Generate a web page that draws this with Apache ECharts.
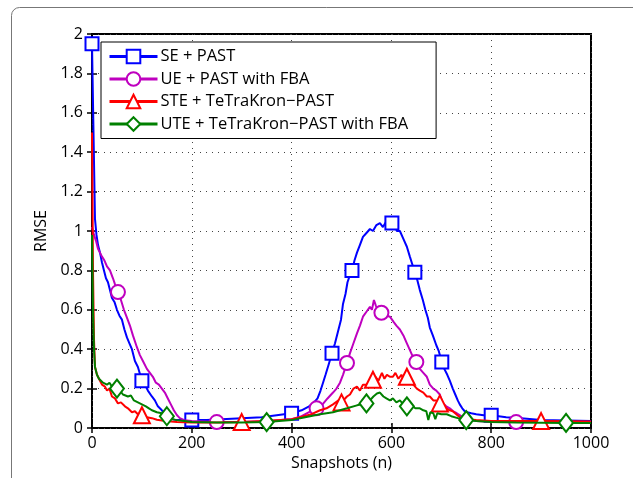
<!DOCTYPE html>
<html>
<head>
<meta charset="utf-8">
<script src="https://cdn.jsdelivr.net/npm/echarts@6/dist/echarts.min.js"></script>
<style>html,body{margin:0;padding:0;background:#fff}#c{width:633px;height:478px}</style>
</head>
<body>
<div id="c"></div>
<script>
const seriesNames = ['SE + PAST', 'UE + PAST with FBA', 'STE + TeTraKron\u2212PAST', 'UTE + TeTraKron\u2212PAST with FBA'];
const xTicks = [0, 200, 400, 600, 800, 1000];
const yTicks = [0, 0.2, 0.4, 0.6, 0.8, 1, 1.2, 1.4, 1.6, 1.8, 2];

const sePast = [[0,1.95],[3,1.5],[6,1.06],[9,0.98],[12,0.93],[16,0.89],[20,0.84],[24,0.8],[28,0.76],[32,0.74],[36,0.7],[40,0.66],[45,0.64],[50,0.6],[55,0.57],[60,0.55],[65,0.5],[70,0.46],[75,0.43],[80,0.4],[86,0.34],[92,0.31],[100,0.24],[106,0.22],[112,0.19],[120,0.16],[126,0.14],[132,0.11],[140,0.09],[146,0.07],[152,0.055],[160,0.045],[170,0.04],[180,0.04],[200,0.04],[230,0.04],[260,0.045],[300,0.05],[340,0.055],[370,0.065],[400,0.075],[420,0.09],[435,0.11],[445,0.13],[452,0.15],[458,0.19],[463,0.23],[468,0.27],[474,0.32],[481,0.38],[487,0.43],[494,0.5],[499,0.55],[503,0.63],[508,0.68],[512,0.74],[516,0.77],[521,0.8],[526,0.85],[531,0.89],[537,0.93],[543,0.97],[550,0.99],[557,1.01],[563,1.0],[570,1.03],[577,1.04],[583,1.02],[590,1.05],[596,1.03],[601,1.04],[606,1.03],[611,1.0],[617,1.0],[624,0.96],[631,0.92],[637,0.87],[642,0.83],[647,0.79],[652,0.75],[657,0.7],[663,0.65],[668,0.6],[673,0.56],[677,0.51],[683,0.47],[690,0.42],[695,0.39],[701,0.335],[706,0.3],[712,0.27],[717,0.24],[723,0.2],[728,0.17],[733,0.14],[737,0.12],[742,0.1],[747,0.085],[752,0.08],[760,0.075],[770,0.07],[785,0.065],[800,0.065],[830,0.055],[860,0.05],[900,0.04],[950,0.038],[1000,0.035]];
const seMarks = [0, 100, 200, 400, 481, 521, 601, 647, 701, 800];

const uePast = [[0,1.02],[4,0.98],[8,0.95],[12,0.91],[16,0.89],[20,0.87],[25,0.85],[30,0.82],[36,0.8],[42,0.76],[46,0.73],[52,0.69],[58,0.65],[64,0.6],[70,0.56],[76,0.52],[82,0.47],[90,0.41],[96,0.37],[102,0.34],[110,0.3],[116,0.28],[122,0.26],[128,0.23],[134,0.22],[140,0.2],[146,0.18],[152,0.15],[158,0.12],[164,0.09],[170,0.066],[176,0.05],[185,0.04],[200,0.035],[250,0.03],[300,0.03],[350,0.035],[400,0.045],[420,0.06],[435,0.08],[450,0.1],[462,0.12],[472,0.15],[483,0.18],[490,0.2],[497,0.23],[503,0.27],[511,0.33],[517,0.38],[524,0.43],[531,0.48],[537,0.52],[543,0.565],[550,0.59],[557,0.615],[561,0.6],[565,0.65],[569,0.62],[573,0.6],[580,0.585],[586,0.6],[591,0.57],[597,0.565],[604,0.54],[610,0.52],[617,0.5],[624,0.47],[631,0.43],[638,0.39],[645,0.35],[650,0.335],[657,0.3],[664,0.28],[671,0.26],[677,0.22],[684,0.2],[690,0.19],[697,0.17],[703,0.125],[710,0.11],[717,0.1],[724,0.085],[731,0.075],[740,0.06],[751,0.045],[770,0.035],[800,0.032],[850,0.03],[900,0.03],[1000,0.03]];
const ueMarks = [52, 250, 450, 511, 580, 650, 850];

const stePast = [[0,1.5],[2,0.8],[4,0.45],[6,0.31],[10,0.27],[16,0.24],[20,0.22],[26,0.21],[30,0.19],[35,0.2],[40,0.16],[46,0.15],[52,0.125],[58,0.13],[66,0.11],[72,0.1],[80,0.08],[86,0.085],[92,0.07],[100,0.065],[110,0.055],[120,0.05],[130,0.042],[147,0.035],[170,0.03],[200,0.028],[250,0.028],[300,0.03],[350,0.035],[400,0.045],[417,0.055],[440,0.07],[457,0.09],[470,0.1],[483,0.12],[494,0.14],[500,0.13],[511,0.16],[517,0.17],[524,0.2],[531,0.21],[537,0.19],[543,0.22],[551,0.22],[557,0.24],[563,0.245],[568,0.26],[574,0.24],[581,0.28],[586,0.25],[591,0.27],[597,0.26],[603,0.26],[608,0.28],[614,0.25],[620,0.27],[626,0.24],[631,0.26],[637,0.23],[644,0.22],[651,0.2],[657,0.19],[664,0.18],[671,0.16],[677,0.16],[684,0.14],[690,0.14],[697,0.125],[703,0.12],[710,0.1],[717,0.09],[723,0.085],[730,0.07],[737,0.055],[750,0.045],[770,0.04],[800,0.035],[850,0.035],[900,0.035],[1000,0.033]];
const steMarks = [100, 300, 500, 563, 631, 697, 900];

const utePast = [[0,0.98],[2,0.6],[4,0.4],[6,0.31],[10,0.27],[14,0.25],[18,0.26],[22,0.23],[26,0.24],[30,0.22],[35,0.23],[40,0.21],[46,0.22],[50,0.2],[56,0.19],[62,0.17],[66,0.18],[72,0.16],[78,0.165],[84,0.14],[92,0.13],[100,0.12],[108,0.11],[114,0.1],[120,0.09],[130,0.08],[140,0.075],[150,0.06],[160,0.045],[170,0.04],[185,0.035],[200,0.03],[250,0.028],[300,0.028],[350,0.03],[400,0.04],[417,0.05],[457,0.07],[483,0.08],[511,0.1],[531,0.115],[550,0.125],[557,0.14],[564,0.16],[571,0.175],[577,0.18],[584,0.16],[590,0.15],[597,0.14],[603,0.15],[610,0.13],[617,0.14],[624,0.12],[631,0.11],[640,0.115],[648,0.1],[657,0.1],[664,0.09],[670,0.085],[674,0.04],[678,0.08],[684,0.075],[688,0.045],[692,0.075],[700,0.07],[711,0.07],[720,0.06],[733,0.05],[750,0.04],[770,0.035],[800,0.03],[850,0.028],[900,0.027],[950,0.026],[1000,0.026]];
const uteMarks = [50, 150, 350, 550, 631, 750, 950];

const FONT = 'Open Sans';
const colors = ['#0000ff', '#bf00bf', '#ff0000', '#008000'];
const symbols = ['emptyRect', 'emptyCircle', 'emptyTriangle', 'emptyDiamond'];
const symSizes = [13, 14, 16, [14, 18]];
const allData = [sePast, uePast, stePast, utePast];
const allMarks = [seMarks, ueMarks, steMarks, uteMarks];

function build(d, marks) {
  return d.map(p => marks.indexOf(p[0]) >= 0 ? { value: p } : { value: p, symbol: 'none' });
}

const chart = echarts.init(document.getElementById('c'), null, { renderer: 'canvas' });
const axisTick = { inside: true, length: 5, lineStyle: { color: '#000', width: 1.5 } };
chart.setOption({
  animation: false,
  backgroundColor: '#fff',
  textStyle: { fontFamily: FONT },
  graphic: [{
    type: 'rect', z: -10, silent: true,
    shape: { x: 11.5, y: 7.5, width: 640, height: 500, r: 8 },
    style: { fill: 'none', stroke: '#777', lineWidth: 1 }
  }],
  grid: { left: 92, right: 42, top: 34, bottom: 50, show: true, borderColor: '#000', borderWidth: 2, backgroundColor: 'transparent' },
  legend: {
    orient: 'vertical', left: 101, top: 42,
    itemWidth: 48, itemHeight: 17, itemGap: 5.5,
    padding: [6, 28, 6, 7],
    backgroundColor: '#fff', borderColor: '#000', borderWidth: 1,
    lineStyle: { width: 3 },
    textStyle: { fontFamily: FONT, fontSize: 16.5, color: '#000', padding: [0, 0, 0, -2] },
    data: seriesNames
  },
  xAxis: [{
    type: 'value', min: 0, max: 1000, interval: 200,
    name: 'Snapshots (n)', nameLocation: 'middle', nameGap: 25,
    nameTextStyle: { fontFamily: FONT, fontSize: 16, color: '#000' },
    axisLine: { show: false }, axisTick: axisTick,
    axisLabel: { margin: 7, fontFamily: FONT, fontSize: 16, color: '#000', formatter: v => xTicks.indexOf(v) >= 0 ? String(v) : '' },
    splitLine: { show: true, lineStyle: { color: '#444', type: [1, 5], width: 1 } }
  }, {
    type: 'value', min: 0, max: 1000, interval: 200, position: 'top',
    axisLine: { show: false }, axisTick: axisTick, axisLabel: { show: false }, splitLine: { show: false }
  }],
  yAxis: [{
    type: 'value', min: 0, max: 2, interval: 0.2,
    name: 'RMSE', nameLocation: 'middle', nameGap: 38, nameRotate: 90,
    nameTextStyle: { fontFamily: FONT, fontSize: 16, color: '#000' },
    axisLine: { show: false }, axisTick: axisTick,
    axisLabel: { margin: 9, fontFamily: FONT, fontSize: 16, color: '#000', formatter: v => String(+v.toFixed(1)) },
    splitLine: { show: true, lineStyle: { color: '#444', type: [1, 5], width: 1 } }
  }, {
    type: 'value', min: 0, max: 2, interval: 0.2, position: 'right',
    axisLine: { show: false }, axisTick: axisTick, axisLabel: { show: false }, splitLine: { show: false }
  }],
  series: allData.map((d, i) => ({
    name: seriesNames[i],
    type: 'line',
    xAxisIndex: 0, yAxisIndex: 0,
    data: build(d, allMarks[i]),
    symbol: symbols[i],
    symbolSize: symSizes[i],
    showSymbol: true, showAllSymbol: true,
    lineStyle: { color: colors[i], width: 2 },
    itemStyle: { color: colors[i], borderWidth: 1.8 },
    z: 2 + i,
    clip: true
  }))
});
</script>
</body>
</html>
